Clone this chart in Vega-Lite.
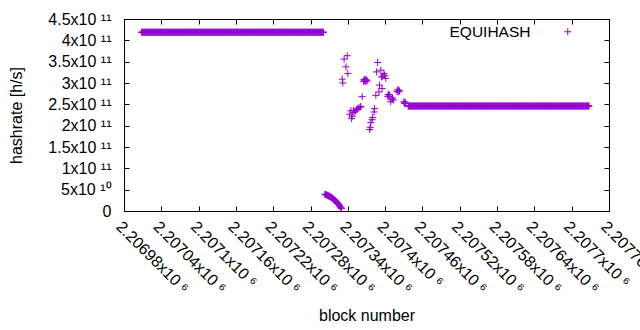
{
"$schema":"https://vega.github.io/schema/vega-lite/v6.json",
"width":485,"height":192,
"autosize":{"type":"none"},
"padding":{"left":124,"top":19,"right":31,"bottom":119},
"background":"white",
"config":{"font":"Liberation Sans","view":{"stroke":"black","strokeWidth":1},
"axis":{"domainColor":"black","tickColor":"black","labelColor":"black","titleColor":"black","labelFontSize":16,"titleFontSize":16,"titleFontWeight":"normal","grid":false,"tickSize":-5,"domainWidth":1,"tickWidth":1,"labelFlush":false,"labelOverlap":false,"labelBound":false},
"legend":{"labelFontSize":15.5,"labelColor":"black","padding":0}},
"data":{"values":[
{"b":2207008,"h":4.19e11},{"b":2207009,"h":4.19e11},
{"b":2207010,"h":4.19e11},{"b":2207011,"h":4.19e11},{"b":2207012,"h":4.19e11},{"b":2207013,"h":4.19e11},{"b":2207014,"h":4.19e11},{"b":2207015,"h":4.19e11},{"b":2207016,"h":4.19e11},{"b":2207017,"h":4.19e11},{"b":2207018,"h":4.19e11},{"b":2207019,"h":4.19e11},
{"b":2207020,"h":4.19e11},{"b":2207021,"h":4.19e11},{"b":2207022,"h":4.19e11},{"b":2207023,"h":4.19e11},{"b":2207024,"h":4.19e11},{"b":2207025,"h":4.19e11},{"b":2207026,"h":4.19e11},{"b":2207027,"h":4.19e11},{"b":2207028,"h":4.19e11},{"b":2207029,"h":4.19e11},
{"b":2207030,"h":4.19e11},{"b":2207031,"h":4.19e11},{"b":2207032,"h":4.19e11},{"b":2207033,"h":4.19e11},{"b":2207034,"h":4.19e11},{"b":2207035,"h":4.19e11},{"b":2207036,"h":4.19e11},{"b":2207037,"h":4.19e11},{"b":2207038,"h":4.19e11},{"b":2207039,"h":4.19e11},
{"b":2207040,"h":4.19e11},{"b":2207041,"h":4.19e11},{"b":2207042,"h":4.19e11},{"b":2207043,"h":4.19e11},{"b":2207044,"h":4.19e11},{"b":2207045,"h":4.19e11},{"b":2207046,"h":4.19e11},{"b":2207047,"h":4.19e11},{"b":2207048,"h":4.19e11},{"b":2207049,"h":4.19e11},
{"b":2207050,"h":4.19e11},{"b":2207051,"h":4.19e11},{"b":2207052,"h":4.19e11},{"b":2207053,"h":4.19e11},{"b":2207054,"h":4.19e11},{"b":2207055,"h":4.19e11},{"b":2207056,"h":4.19e11},{"b":2207057,"h":4.19e11},{"b":2207058,"h":4.19e11},{"b":2207059,"h":4.19e11},
{"b":2207060,"h":4.19e11},{"b":2207061,"h":4.19e11},{"b":2207062,"h":4.19e11},{"b":2207063,"h":4.19e11},{"b":2207064,"h":4.19e11},{"b":2207065,"h":4.19e11},{"b":2207066,"h":4.19e11},{"b":2207067,"h":4.19e11},{"b":2207068,"h":4.19e11},{"b":2207069,"h":4.19e11},
{"b":2207070,"h":4.19e11},{"b":2207071,"h":4.19e11},{"b":2207072,"h":4.19e11},{"b":2207073,"h":4.19e11},{"b":2207074,"h":4.19e11},{"b":2207075,"h":4.19e11},{"b":2207076,"h":4.19e11},{"b":2207077,"h":4.19e11},{"b":2207078,"h":4.19e11},{"b":2207079,"h":4.19e11},
{"b":2207080,"h":4.19e11},{"b":2207081,"h":4.19e11},{"b":2207082,"h":4.19e11},{"b":2207083,"h":4.19e11},{"b":2207084,"h":4.19e11},{"b":2207085,"h":4.19e11},{"b":2207086,"h":4.19e11},{"b":2207087,"h":4.19e11},{"b":2207088,"h":4.19e11},{"b":2207089,"h":4.19e11},
{"b":2207090,"h":4.19e11},{"b":2207091,"h":4.19e11},{"b":2207092,"h":4.19e11},{"b":2207093,"h":4.19e11},{"b":2207094,"h":4.19e11},{"b":2207095,"h":4.19e11},{"b":2207096,"h":4.19e11},{"b":2207097,"h":4.19e11},{"b":2207098,"h":4.19e11},{"b":2207099,"h":4.19e11},
{"b":2207100,"h":4.19e11},{"b":2207101,"h":4.19e11},{"b":2207102,"h":4.19e11},{"b":2207103,"h":4.19e11},{"b":2207104,"h":4.19e11},{"b":2207105,"h":4.19e11},{"b":2207106,"h":4.19e11},{"b":2207107,"h":4.19e11},{"b":2207108,"h":4.19e11},{"b":2207109,"h":4.19e11},
{"b":2207110,"h":4.19e11},{"b":2207111,"h":4.19e11},{"b":2207112,"h":4.19e11},{"b":2207113,"h":4.19e11},{"b":2207114,"h":4.19e11},{"b":2207115,"h":4.19e11},{"b":2207116,"h":4.19e11},{"b":2207117,"h":4.19e11},{"b":2207118,"h":4.19e11},{"b":2207119,"h":4.19e11},
{"b":2207120,"h":4.19e11},{"b":2207121,"h":4.19e11},{"b":2207122,"h":4.19e11},{"b":2207123,"h":4.19e11},{"b":2207124,"h":4.19e11},{"b":2207125,"h":4.19e11},{"b":2207126,"h":4.19e11},{"b":2207127,"h":4.19e11},{"b":2207128,"h":4.19e11},{"b":2207129,"h":4.19e11},
{"b":2207130,"h":4.19e11},{"b":2207131,"h":4.19e11},{"b":2207132,"h":4.19e11},{"b":2207133,"h":4.19e11},{"b":2207134,"h":4.19e11},{"b":2207135,"h":4.19e11},{"b":2207136,"h":4.19e11},{"b":2207137,"h":4.19e11},{"b":2207138,"h":4.19e11},{"b":2207139,"h":4.19e11},
{"b":2207140,"h":4.19e11},{"b":2207141,"h":4.19e11},{"b":2207142,"h":4.19e11},{"b":2207143,"h":4.19e11},{"b":2207144,"h":4.19e11},{"b":2207145,"h":4.19e11},{"b":2207146,"h":4.19e11},{"b":2207147,"h":4.19e11},{"b":2207148,"h":4.19e11},{"b":2207149,"h":4.19e11},
{"b":2207150,"h":4.19e11},{"b":2207151,"h":4.19e11},{"b":2207152,"h":4.19e11},{"b":2207153,"h":4.19e11},{"b":2207154,"h":4.19e11},{"b":2207155,"h":4.19e11},{"b":2207156,"h":4.19e11},{"b":2207157,"h":4.19e11},{"b":2207158,"h":4.19e11},{"b":2207159,"h":4.19e11},
{"b":2207160,"h":4.19e11},{"b":2207161,"h":4.19e11},{"b":2207162,"h":4.19e11},{"b":2207163,"h":4.19e11},{"b":2207164,"h":4.19e11},{"b":2207165,"h":4.19e11},{"b":2207166,"h":4.19e11},{"b":2207167,"h":4.19e11},{"b":2207168,"h":4.19e11},{"b":2207169,"h":4.19e11},
{"b":2207170,"h":4.19e11},{"b":2207171,"h":4.19e11},{"b":2207172,"h":4.19e11},{"b":2207173,"h":4.19e11},{"b":2207174,"h":4.19e11},{"b":2207175,"h":4.19e11},{"b":2207176,"h":4.19e11},{"b":2207177,"h":4.19e11},{"b":2207178,"h":4.19e11},{"b":2207179,"h":4.19e11},
{"b":2207180,"h":4.19e11},{"b":2207181,"h":4.19e11},{"b":2207182,"h":4.19e11},{"b":2207183,"h":4.19e11},{"b":2207184,"h":4.19e11},{"b":2207185,"h":4.19e11},{"b":2207186,"h":4.19e11},{"b":2207187,"h":4.19e11},{"b":2207188,"h":4.19e11},{"b":2207189,"h":4.19e11},
{"b":2207190,"h":4.19e11},{"b":2207191,"h":4.19e11},{"b":2207192,"h":4.19e11},{"b":2207193,"h":4.19e11},{"b":2207194,"h":4.19e11},{"b":2207195,"h":4.19e11},{"b":2207196,"h":4.19e11},{"b":2207197,"h":4.19e11},{"b":2207198,"h":4.19e11},{"b":2207199,"h":4.19e11},
{"b":2207200,"h":4.19e11},{"b":2207201,"h":4.19e11},{"b":2207202,"h":4.19e11},{"b":2207203,"h":4.19e11},{"b":2207204,"h":4.19e11},{"b":2207205,"h":4.19e11},{"b":2207206,"h":4.19e11},{"b":2207207,"h":4.19e11},{"b":2207208,"h":4.19e11},{"b":2207209,"h":4.19e11},
{"b":2207210,"h":4.19e11},{"b":2207211,"h":4.19e11},{"b":2207212,"h":4.19e11},{"b":2207213,"h":4.19e11},{"b":2207214,"h":4.19e11},{"b":2207215,"h":4.19e11},{"b":2207216,"h":4.19e11},{"b":2207217,"h":4.19e11},{"b":2207218,"h":4.19e11},{"b":2207219,"h":4.19e11},
{"b":2207220,"h":4.19e11},{"b":2207221,"h":4.19e11},{"b":2207222,"h":4.19e11},{"b":2207223,"h":4.19e11},{"b":2207224,"h":4.19e11},{"b":2207225,"h":4.19e11},{"b":2207226,"h":4.19e11},{"b":2207227,"h":4.19e11},{"b":2207228,"h":4.19e11},{"b":2207229,"h":4.19e11},
{"b":2207230,"h":4.19e11},{"b":2207231,"h":4.19e11},{"b":2207232,"h":4.19e11},{"b":2207233,"h":4.19e11},{"b":2207234,"h":4.19e11},{"b":2207235,"h":4.19e11},{"b":2207236,"h":4.19e11},{"b":2207237,"h":4.19e11},{"b":2207238,"h":4.19e11},{"b":2207239,"h":4.19e11},
{"b":2207240,"h":4.19e11},{"b":2207241,"h":4.19e11},{"b":2207242,"h":4.19e11},{"b":2207243,"h":4.19e11},{"b":2207244,"h":4.19e11},{"b":2207245,"h":4.19e11},{"b":2207246,"h":4.19e11},{"b":2207247,"h":4.19e11},{"b":2207248,"h":4.19e11},{"b":2207249,"h":4.19e11},
{"b":2207250,"h":4.19e11},{"b":2207251,"h":4.19e11},{"b":2207252,"h":4.19e11},{"b":2207253,"h":4.19e11},{"b":2207254,"h":4.19e11},{"b":2207255,"h":4.19e11},{"b":2207256,"h":4.19e11},{"b":2207257,"h":4.19e11},{"b":2207258,"h":4.19e11},{"b":2207259,"h":4.19e11},
{"b":2207260,"h":4.19e11},{"b":2207261,"h":4.19e11},{"b":2207262,"h":4.19e11},{"b":2207263,"h":4.19e11},{"b":2207264,"h":4.19e11},{"b":2207265,"h":4.19e11},{"b":2207266,"h":4.19e11},{"b":2207267,"h":4.19e11},{"b":2207268,"h":4.19e11},{"b":2207269,"h":4.19e11},
{"b":2207270,"h":4.19e11},{"b":2207271,"h":4.19e11},{"b":2207272,"h":4.19e11},{"b":2207273,"h":4.19e11},{"b":2207274,"h":4.19e11},{"b":2207275,"h":4.19e11},{"b":2207276,"h":4.19e11},{"b":2207277,"h":4.19e11},{"b":2207278,"h":4.19e11},{"b":2207279,"h":4.19e11},
{"b":2207280,"h":4.19e11},{"b":2207281,"h":4.19e11},{"b":2207282,"h":4.19e11},{"b":2207283,"h":4.19e11},{"b":2207284,"h":4.19e11},{"b":2207285,"h":4.19e11},{"b":2207286,"h":4.19e11},{"b":2207287,"h":4.19e11},{"b":2207288,"h":4.19e11},{"b":2207289,"h":4.19e11},
{"b":2207290,"h":4.19e11},{"b":2207291,"h":4.19e11},{"b":2207292,"h":4.19e11},{"b":2207293,"h":4.19e11},{"b":2207294,"h":4.19e11},{"b":2207295,"h":4.19e11},{"b":2207296,"h":4.19e11},{"b":2207297,"h":4.19e11},{"b":2207298,"h":4.19e11},{"b":2207299,"h":4.19e11},
{"b":2207300,"h":4.19e11},{"b":2207301,"h":4.19e11},
{"b":2207303,"h":3.92e10},{"b":2207304,"h":3.86e10},{"b":2207305,"h":3.80e10},{"b":2207306,"h":3.74e10},{"b":2207307,"h":3.68e10},{"b":2207308,"h":3.61e10},{"b":2207309,"h":3.54e10},
{"b":2207310,"h":3.46e10},{"b":2207311,"h":3.38e10},{"b":2207312,"h":3.30e10},{"b":2207313,"h":3.22e10},{"b":2207314,"h":3.14e10},{"b":2207315,"h":3.03e10},{"b":2207316,"h":2.91e10},{"b":2207317,"h":2.78e10},{"b":2207318,"h":2.65e10},{"b":2207319,"h":2.51e10},
{"b":2207320,"h":2.37e10},{"b":2207321,"h":2.22e10},{"b":2207322,"h":2.06e10},{"b":2207323,"h":1.90e10},{"b":2207324,"h":1.74e10},{"b":2207325,"h":1.56e10},{"b":2207326,"h":1.37e10},{"b":2207327,"h":1.16e10},{"b":2207328,"h":0.94e10},{"b":2207329,"h":0.75e10},
{"b":2207330,"h":0.56e10},
{"b":2207331,"h":3.09e11},{"b":2207332,"h":3.00e11},{"b":2207334,"h":3.56e11},{"b":2207337,"h":3.38e11},{"b":2207339,"h":3.64e11},{"b":2207340,"h":3.22e11},
{"b":2207343,"h":2.27e11},{"b":2207345,"h":2.35e11},{"b":2207346,"h":2.17e11},{"b":2207347,"h":2.22e11},{"b":2207349,"h":2.36e11},{"b":2207350,"h":2.31e11},{"b":2207352,"h":2.34e11},{"b":2207354,"h":2.38e11},{"b":2207356,"h":2.40e11},{"b":2207358,"h":2.42e11},{"b":2207360,"h":2.44e11},{"b":2207361,"h":2.45e11},{"b":2207363,"h":2.68e11},
{"b":2207365,"h":3.04e11},{"b":2207366,"h":3.08e11},{"b":2207367,"h":3.05e11},{"b":2207368,"h":3.09e11},{"b":2207369,"h":3.03e11},{"b":2207370,"h":3.07e11},{"b":2207371,"h":3.05e11},
{"b":2207375,"h":1.91e11},{"b":2207376,"h":1.96e11},{"b":2207377,"h":2.07e11},{"b":2207379,"h":2.14e11},{"b":2207380,"h":2.19e11},{"b":2207382,"h":2.32e11},{"b":2207383,"h":2.40e11},{"b":2207385,"h":2.71e11},{"b":2207386,"h":3.26e11},{"b":2207388,"h":3.48e11},
{"b":2207390,"h":2.79e11},{"b":2207391,"h":2.95e11},{"b":2207393,"h":3.30e11},{"b":2207394,"h":3.14e11},{"b":2207395,"h":2.87e11},{"b":2207396,"h":3.16e11},{"b":2207398,"h":3.22e11},{"b":2207399,"h":3.18e11},{"b":2207401,"h":3.11e11},
{"b":2207404,"h":2.69e11},{"b":2207405,"h":2.73e11},{"b":2207406,"h":2.68e11},{"b":2207407,"h":2.72e11},{"b":2207409,"h":2.56e11},{"b":2207411,"h":2.62e11},{"b":2207412,"h":2.65e11},{"b":2207413,"h":2.60e11},
{"b":2207419,"h":2.80e11},{"b":2207420,"h":2.84e11},{"b":2207421,"h":2.79e11},{"b":2207422,"h":2.83e11},{"b":2207423,"h":2.81e11},
{"b":2207430,"h":2.56e11},{"b":2207431,"h":2.52e11},{"b":2207432,"h":2.55e11},{"b":2207433,"h":2.53e11},
{"b":2207437,"h":2.46e11},{"b":2207438,"h":2.46e11},{"b":2207439,"h":2.46e11},
{"b":2207440,"h":2.46e11},{"b":2207441,"h":2.46e11},{"b":2207442,"h":2.46e11},{"b":2207443,"h":2.46e11},{"b":2207444,"h":2.46e11},{"b":2207445,"h":2.46e11},{"b":2207446,"h":2.46e11},{"b":2207447,"h":2.46e11},{"b":2207448,"h":2.46e11},{"b":2207449,"h":2.46e11},
{"b":2207450,"h":2.46e11},{"b":2207451,"h":2.46e11},{"b":2207452,"h":2.46e11},{"b":2207453,"h":2.46e11},{"b":2207454,"h":2.46e11},{"b":2207455,"h":2.46e11},{"b":2207456,"h":2.46e11},{"b":2207457,"h":2.46e11},{"b":2207458,"h":2.46e11},{"b":2207459,"h":2.46e11},
{"b":2207460,"h":2.46e11},{"b":2207461,"h":2.46e11},{"b":2207462,"h":2.46e11},{"b":2207463,"h":2.46e11},{"b":2207464,"h":2.46e11},{"b":2207465,"h":2.46e11},{"b":2207466,"h":2.46e11},{"b":2207467,"h":2.46e11},{"b":2207468,"h":2.46e11},{"b":2207469,"h":2.46e11},
{"b":2207470,"h":2.46e11},{"b":2207471,"h":2.46e11},{"b":2207472,"h":2.46e11},{"b":2207473,"h":2.46e11},{"b":2207474,"h":2.46e11},{"b":2207475,"h":2.46e11},{"b":2207476,"h":2.46e11},{"b":2207477,"h":2.46e11},{"b":2207478,"h":2.46e11},{"b":2207479,"h":2.46e11},
{"b":2207480,"h":2.46e11},{"b":2207481,"h":2.46e11},{"b":2207482,"h":2.46e11},{"b":2207483,"h":2.46e11},{"b":2207484,"h":2.46e11},{"b":2207485,"h":2.46e11},{"b":2207486,"h":2.46e11},{"b":2207487,"h":2.46e11},{"b":2207488,"h":2.46e11},{"b":2207489,"h":2.46e11},
{"b":2207490,"h":2.46e11},{"b":2207491,"h":2.46e11},{"b":2207492,"h":2.46e11},{"b":2207493,"h":2.46e11},{"b":2207494,"h":2.46e11},{"b":2207495,"h":2.46e11},{"b":2207496,"h":2.46e11},{"b":2207497,"h":2.46e11},{"b":2207498,"h":2.46e11},{"b":2207499,"h":2.46e11},
{"b":2207500,"h":2.46e11},{"b":2207501,"h":2.46e11},{"b":2207502,"h":2.46e11},{"b":2207503,"h":2.46e11},{"b":2207504,"h":2.46e11},{"b":2207505,"h":2.46e11},{"b":2207506,"h":2.46e11},{"b":2207507,"h":2.46e11},{"b":2207508,"h":2.46e11},{"b":2207509,"h":2.46e11},
{"b":2207510,"h":2.46e11},{"b":2207511,"h":2.46e11},{"b":2207512,"h":2.46e11},{"b":2207513,"h":2.46e11},{"b":2207514,"h":2.46e11},{"b":2207515,"h":2.46e11},{"b":2207516,"h":2.46e11},{"b":2207517,"h":2.46e11},{"b":2207518,"h":2.46e11},{"b":2207519,"h":2.46e11},
{"b":2207520,"h":2.46e11},{"b":2207521,"h":2.46e11},{"b":2207522,"h":2.46e11},{"b":2207523,"h":2.46e11},{"b":2207524,"h":2.46e11},{"b":2207525,"h":2.46e11},{"b":2207526,"h":2.46e11},{"b":2207527,"h":2.46e11},{"b":2207528,"h":2.46e11},{"b":2207529,"h":2.46e11},
{"b":2207530,"h":2.46e11},{"b":2207531,"h":2.46e11},{"b":2207532,"h":2.46e11},{"b":2207533,"h":2.46e11},{"b":2207534,"h":2.46e11},{"b":2207535,"h":2.46e11},{"b":2207536,"h":2.46e11},{"b":2207537,"h":2.46e11},{"b":2207538,"h":2.46e11},{"b":2207539,"h":2.46e11},
{"b":2207540,"h":2.46e11},{"b":2207541,"h":2.46e11},{"b":2207542,"h":2.46e11},{"b":2207543,"h":2.46e11},{"b":2207544,"h":2.46e11},{"b":2207545,"h":2.46e11},{"b":2207546,"h":2.46e11},{"b":2207547,"h":2.46e11},{"b":2207548,"h":2.46e11},{"b":2207549,"h":2.46e11},
{"b":2207550,"h":2.46e11},{"b":2207551,"h":2.46e11},{"b":2207552,"h":2.46e11},{"b":2207553,"h":2.46e11},{"b":2207554,"h":2.46e11},{"b":2207555,"h":2.46e11},{"b":2207556,"h":2.46e11},{"b":2207557,"h":2.46e11},{"b":2207558,"h":2.46e11},{"b":2207559,"h":2.46e11},
{"b":2207560,"h":2.46e11},{"b":2207561,"h":2.46e11},{"b":2207562,"h":2.46e11},{"b":2207563,"h":2.46e11},{"b":2207564,"h":2.46e11},{"b":2207565,"h":2.46e11},{"b":2207566,"h":2.46e11},{"b":2207567,"h":2.46e11},{"b":2207568,"h":2.46e11},{"b":2207569,"h":2.46e11},
{"b":2207570,"h":2.46e11},{"b":2207571,"h":2.46e11},{"b":2207572,"h":2.46e11},{"b":2207573,"h":2.46e11},{"b":2207574,"h":2.46e11},{"b":2207575,"h":2.46e11},{"b":2207576,"h":2.46e11},{"b":2207577,"h":2.46e11},{"b":2207578,"h":2.46e11},{"b":2207579,"h":2.46e11},
{"b":2207580,"h":2.46e11},{"b":2207581,"h":2.46e11},{"b":2207582,"h":2.46e11},{"b":2207583,"h":2.46e11},{"b":2207584,"h":2.46e11},{"b":2207585,"h":2.46e11},{"b":2207586,"h":2.46e11},{"b":2207587,"h":2.46e11},{"b":2207588,"h":2.46e11},{"b":2207589,"h":2.46e11},
{"b":2207590,"h":2.46e11},{"b":2207591,"h":2.46e11},{"b":2207592,"h":2.46e11},{"b":2207593,"h":2.46e11},{"b":2207594,"h":2.46e11},{"b":2207595,"h":2.46e11},{"b":2207596,"h":2.46e11},{"b":2207597,"h":2.46e11},{"b":2207598,"h":2.46e11},{"b":2207599,"h":2.46e11},
{"b":2207600,"h":2.46e11},{"b":2207601,"h":2.46e11},{"b":2207602,"h":2.46e11},{"b":2207603,"h":2.46e11},{"b":2207604,"h":2.46e11},{"b":2207605,"h":2.46e11},{"b":2207606,"h":2.46e11},{"b":2207607,"h":2.46e11},{"b":2207608,"h":2.46e11},{"b":2207609,"h":2.46e11},
{"b":2207610,"h":2.46e11},{"b":2207611,"h":2.46e11},{"b":2207612,"h":2.46e11},{"b":2207613,"h":2.46e11},{"b":2207614,"h":2.46e11},{"b":2207615,"h":2.46e11},{"b":2207616,"h":2.46e11},{"b":2207617,"h":2.46e11},{"b":2207618,"h":2.46e11},{"b":2207619,"h":2.46e11},
{"b":2207620,"h":2.46e11},{"b":2207621,"h":2.46e11},{"b":2207622,"h":2.46e11},{"b":2207623,"h":2.46e11},{"b":2207624,"h":2.46e11},{"b":2207625,"h":2.46e11},{"b":2207626,"h":2.46e11},{"b":2207627,"h":2.46e11},{"b":2207628,"h":2.46e11},{"b":2207629,"h":2.46e11},
{"b":2207630,"h":2.46e11},{"b":2207631,"h":2.46e11},{"b":2207632,"h":2.46e11},{"b":2207633,"h":2.46e11},{"b":2207634,"h":2.46e11},{"b":2207635,"h":2.46e11},{"b":2207636,"h":2.46e11},{"b":2207637,"h":2.46e11},{"b":2207638,"h":2.46e11},{"b":2207639,"h":2.46e11},
{"b":2207640,"h":2.46e11},{"b":2207641,"h":2.46e11},{"b":2207642,"h":2.46e11},{"b":2207643,"h":2.46e11},{"b":2207644,"h":2.46e11},{"b":2207645,"h":2.46e11},{"b":2207646,"h":2.46e11},{"b":2207647,"h":2.46e11},{"b":2207648,"h":2.46e11},{"b":2207649,"h":2.46e11},
{"b":2207650,"h":2.46e11},{"b":2207651,"h":2.46e11},{"b":2207652,"h":2.46e11},{"b":2207653,"h":2.46e11},{"b":2207654,"h":2.46e11},{"b":2207655,"h":2.46e11},{"b":2207656,"h":2.46e11},{"b":2207657,"h":2.46e11},{"b":2207658,"h":2.46e11},{"b":2207659,"h":2.46e11},
{"b":2207660,"h":2.46e11},{"b":2207661,"h":2.46e11},{"b":2207662,"h":2.46e11},{"b":2207663,"h":2.46e11},{"b":2207664,"h":2.46e11},{"b":2207665,"h":2.46e11},{"b":2207666,"h":2.46e11},{"b":2207667,"h":2.46e11},{"b":2207668,"h":2.46e11},{"b":2207669,"h":2.46e11},
{"b":2207670,"h":2.46e11},{"b":2207671,"h":2.46e11},{"b":2207672,"h":2.46e11},{"b":2207673,"h":2.46e11},{"b":2207674,"h":2.46e11},{"b":2207675,"h":2.46e11},{"b":2207676,"h":2.46e11},{"b":2207677,"h":2.46e11},{"b":2207678,"h":2.46e11},{"b":2207679,"h":2.46e11},
{"b":2207680,"h":2.46e11},{"b":2207681,"h":2.46e11},{"b":2207682,"h":2.46e11},{"b":2207683,"h":2.46e11},{"b":2207684,"h":2.46e11},{"b":2207685,"h":2.46e11},{"b":2207686,"h":2.46e11},{"b":2207687,"h":2.46e11},{"b":2207688,"h":2.46e11},{"b":2207689,"h":2.46e11},
{"b":2207690,"h":2.46e11},{"b":2207691,"h":2.46e11},{"b":2207692,"h":2.46e11},{"b":2207693,"h":2.46e11},{"b":2207694,"h":2.46e11},{"b":2207695,"h":2.46e11},{"b":2207696,"h":2.46e11},{"b":2207697,"h":2.46e11},{"b":2207698,"h":2.46e11},{"b":2207699,"h":2.46e11},
{"b":2207700,"h":2.46e11},{"b":2207701,"h":2.46e11},{"b":2207702,"h":2.46e11},{"b":2207703,"h":2.46e11},{"b":2207704,"h":2.46e11},{"b":2207705,"h":2.46e11},{"b":2207706,"h":2.46e11},{"b":2207707,"h":2.46e11},{"b":2207708,"h":2.46e11},{"b":2207709,"h":2.46e11},
{"b":2207710,"h":2.46e11},{"b":2207711,"h":2.46e11},{"b":2207712,"h":2.46e11},{"b":2207713,"h":2.46e11},{"b":2207714,"h":2.46e11},{"b":2207715,"h":2.46e11},{"b":2207716,"h":2.46e11},{"b":2207717,"h":2.46e11},{"b":2207718,"h":2.46e11},{"b":2207719,"h":2.46e11},
{"b":2207720,"h":2.46e11},{"b":2207721,"h":2.46e11},{"b":2207722,"h":2.46e11},{"b":2207723,"h":2.46e11},{"b":2207724,"h":2.46e11},{"b":2207725,"h":2.46e11},{"b":2207726,"h":2.46e11},{"b":2207727,"h":2.46e11},{"b":2207728,"h":2.46e11}
]},
"layer":[
{"mark":{"type":"point","shape":"M-1,0H1M0,-1V1","filled":false,"strokeWidth":1,"size":49,"opacity":1},
"encoding":{
"x":{"field":"b","type":"quantitative","title":"block number","scale":{"domain":[2206980,2207760],"nice":false,"zero":false},
"axis":{"values":[2206980,2207040,2207100,2207160,2207220,2207280,2207340,2207400,2207460,2207520,2207580,2207640,2207700,2207760],"labelExpr":"format(datum.value/1e6,'.6~g') + 'x10 ⁶'","labelAngle":45,"labelAlign":"left","labelBaseline":"top","labelPadding":12,"titlePadding":11}},
"y":{"field":"h","type":"quantitative","title":"hashrate [h/s]","scale":{"domain":[0,4.5e11],"nice":false},
"axis":{"values":[0,5e10,1e11,1.5e11,2e11,2.5e11,3e11,3.5e11,4e11,4.5e11],"labelExpr":"datum.value == 0 ? '0' : (datum.value < 1e11 ? format(datum.value/1e10,'~g') + 'x10 ¹⁰' : format(datum.value/1e11,'~g') + 'x10 ¹¹')","labelPadding":18,"titlePadding":23}},
"color":{"datum":"EQUIHASH","type":"nominal","scale":{"range":["#9400d3"]},
"legend":{"title":null,"orient":"none","legendX":436,"legendY":5,"symbolType":"M-1,0H1M0,-1V1","symbolSize":49,"symbolStrokeWidth":1,"symbolFillColor":"transparent","labelAlign":"right","labelOffset":-45}}
}},
{"data":{"values":[{"b":2206980,"h":0}]},
"mark":{"type":"point","opacity":0},
"encoding":{
"x":{"field":"b","type":"quantitative","axis":{"orient":"top","labels":false,"title":null,"values":[2206980,2207040,2207100,2207160,2207220,2207280,2207340,2207400,2207460,2207520,2207580,2207640,2207700,2207760]}},
"y":{"field":"h","type":"quantitative","axis":{"orient":"right","labels":false,"title":null,"values":[0,5e10,1e11,1.5e11,2e11,2.5e11,3e11,3.5e11,4e11,4.5e11]}}
}}
],
"resolve":{"axis":{"x":"independent","y":"independent"}}
}
